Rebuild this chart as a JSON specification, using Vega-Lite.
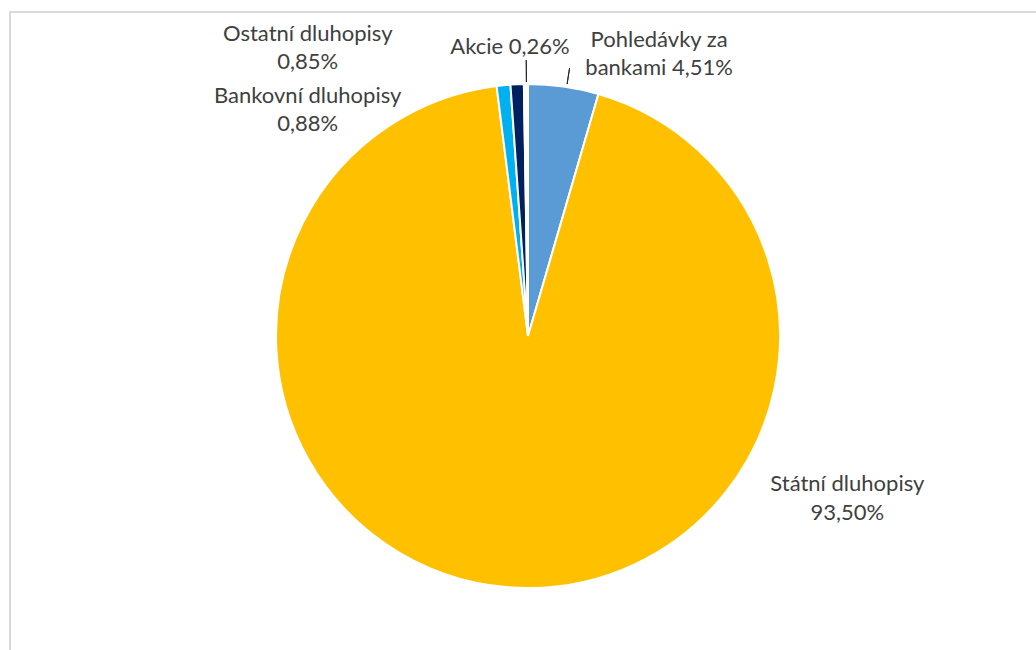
{
  "$schema": "https://vega.github.io/schema/vega-lite/v6.json",
  "width": 1036,
  "height": 648,
  "autosize": {"type": "none"},
  "padding": {"left": 10, "top": 12, "right": -10, "bottom": -10},
  "background": "white",
  "view": {"stroke": "#D9D9D9", "strokeWidth": 2},
  "config": {"view": {"stroke": "#D9D9D9", "strokeWidth": 2}},
  "datasets": {
    "pie": [
      {"cat": "Pohledávky za bankami", "value": 4.51, "ord": 1},
      {"cat": "Státní dluhopisy", "value": 93.50, "ord": 2},
      {"cat": "Bankovní dluhopisy", "value": 0.88, "ord": 3},
      {"cat": "Ostatní dluhopisy", "value": 0.85, "ord": 4},
      {"cat": "Akcie", "value": 0.26, "ord": 5}
    ],
    "labels": [
      {"cat": "Pohledávky za bankami", "text": "Pohledávky za\nbankami 4,51%", "at": 6.63},
      {"cat": "Státní dluhopisy", "text": "Státní dluhopisy\n93,50%", "at": 31.91},
      {"cat": "Bankovní dluhopisy", "text": "Bankovní dluhopisy\n0,88%", "at": 88.19},
      {"cat": "Ostatní dluhopisy", "text": "Ostatní dluhopisy\n0,85%", "at": 89.98},
      {"cat": "Akcie", "text": "Akcie 0,26%", "at": 99.01}
    ],
    "leaders": [
      {"cat": "Pohledávky za bankami", "at": 2.45},
      {"cat": "Akcie", "at": 99.9}
    ]
  },
  "layer": [
    {
      "data": {"name": "pie"},
      "mark": {"type": "arc", "outerRadius": 252, "stroke": "white", "strokeWidth": 2},
      "encoding": {
        "theta": {"field": "value", "type": "quantitative", "stack": true, "scale": {"domain": [0, 100]}},
        "order": {"field": "ord", "type": "quantitative"},
        "color": {
          "field": "cat", "type": "nominal", "legend": null,
          "scale": {
            "domain": ["Pohledávky za bankami", "Státní dluhopisy", "Bankovní dluhopisy", "Ostatní dluhopisy", "Akcie"],
            "range": ["#5B9BD5", "#FFC000", "#00B0F0", "#002060", "#FFFFFF"]
          }
        }
      }
    },
    {
      "data": {"name": "leaders"},
      "transform": [{"filter": "datum.cat === 'Pohledávky za bankami'"}],
      "mark": {"type": "arc", "innerRadius": 255, "outerRadius": 271, "stroke": "#262626", "strokeWidth": 1, "fill": null},
      "encoding": {
        "theta": {"field": "at", "type": "quantitative", "scale": {"domain": [0, 100]}},
        "theta2": {"field": "at"}
      }
    },
    {
      "data": {"name": "leaders"},
      "transform": [{"filter": "datum.cat === 'Akcie'"}],
      "mark": {"type": "arc", "innerRadius": 254, "outerRadius": 276, "stroke": "#262626", "strokeWidth": 1, "fill": null},
      "encoding": {
        "theta": {"field": "at", "type": "quantitative", "scale": {"domain": [0, 100]}},
        "theta2": {"field": "at"}
      }
    },
    {
      "data": {"name": "labels"},
      "transform": [{"filter": "datum.cat === 'Pohledávky za bankami'"}],
      "mark": {"type": "text", "radius": 324, "font": "Lato", "fontSize": 22, "color": "#404040", "align": "center", "baseline": "middle", "lineBreak": "\n", "lineHeight": 28},
      "encoding": {
        "theta": {"field": "at", "type": "quantitative", "scale": {"domain": [0, 100]}},
        "text": {"field": "text"}
      }
    },
    {
      "data": {"name": "labels"},
      "transform": [{"filter": "datum.cat === 'Státní dluhopisy'"}],
      "mark": {"type": "text", "radius": 352, "font": "Lato", "fontSize": 22, "color": "#404040", "align": "center", "baseline": "middle", "lineBreak": "\n", "lineHeight": 29},
      "encoding": {
        "theta": {"field": "at", "type": "quantitative", "scale": {"domain": [0, 100]}},
        "text": {"field": "text"}
      }
    },
    {
      "data": {"name": "labels"},
      "transform": [{"filter": "datum.cat === 'Bankovní dluhopisy'"}],
      "mark": {"type": "text", "radius": 326, "font": "Lato", "fontSize": 22, "color": "#404040", "align": "center", "baseline": "middle", "lineBreak": "\n", "lineHeight": 28},
      "encoding": {
        "theta": {"field": "at", "type": "quantitative", "scale": {"domain": [0, 100]}},
        "text": {"field": "text"}
      }
    },
    {
      "data": {"name": "labels"},
      "transform": [{"filter": "datum.cat === 'Ostatní dluhopisy'"}],
      "mark": {"type": "text", "radius": 374, "font": "Lato", "fontSize": 22, "color": "#404040", "align": "center", "baseline": "middle", "lineBreak": "\n", "lineHeight": 28},
      "encoding": {
        "theta": {"field": "at", "type": "quantitative", "scale": {"domain": [0, 100]}},
        "text": {"field": "text"}
      }
    },
    {
      "data": {"name": "labels"},
      "transform": [{"filter": "datum.cat === 'Akcie'"}],
      "mark": {"type": "text", "radius": 290, "font": "Lato", "fontSize": 22, "color": "#404040", "align": "center", "baseline": "middle"},
      "encoding": {
        "theta": {"field": "at", "type": "quantitative", "scale": {"domain": [0, 100]}},
        "text": {"field": "text"}
      }
    }
  ]
}
